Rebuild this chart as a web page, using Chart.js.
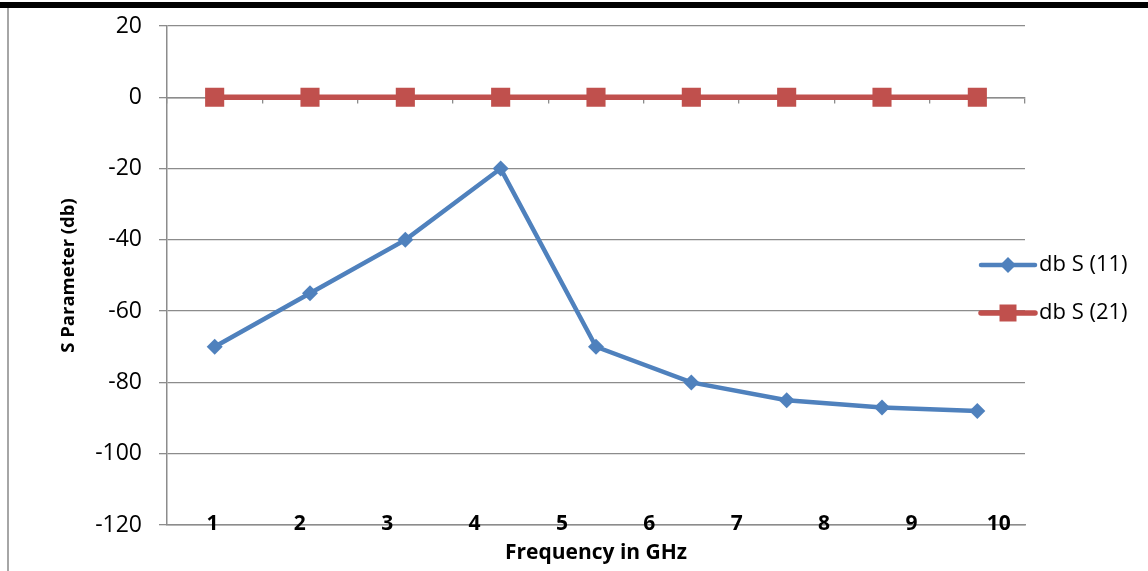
<!DOCTYPE html>
<html>
<head>
<meta charset="utf-8">
<script src="https://cdn.jsdelivr.net/npm/chart.js"></script>
<style>
  body { margin: 0; background: #fff; }
  #marco { position: relative; width: 1148px; height: 571px; overflow: hidden; }
  #barra { position: absolute; left: 0; top: 2px; width: 1148px; height: 6px; background: #000; }
  #borde { position: absolute; left: 7px; top: 8px; width: 2px; height: 563px; background: #a6a6a6; }
  canvas { position: absolute; left: 0; top: 0; }
</style>
</head>
<body>
<div id="marco">
  <canvas id="grafica" width="1148" height="571"></canvas>
  <div id="barra"></div>
  <div id="borde"></div>
</div>
<script>
// datos
const frecuencias = ["1", "2", "3", "4", "5", "6", "7", "8", "9"];
const dbS11 = [-70, -55, -40, -20, -70, -80, -85, -87, -88];
const dbS21 = [0, 0, 0, 0, 0, 0, 0, 0, 0];
const etiquetasX = [1, 2, 3, 4, 5, 6, 7, 8, 9, 10];
const nombres = ["db S (11)", "db S (21)"];

const azul = "#4f81bd";
const rojo = "#c0504d";
const gris = "#8c8c8c";
const fuente = "'Open Sans', 'Liberation Sans', sans-serif";

// leyenda dibujada a mano (linea + marcador, como en Excel)
const leyenda = {
  id: "leyenda",
  afterDraw(chart) {
    const ctx = chart.ctx;
    const a = chart.chartArea;
    chart.data.datasets.forEach((ds, i) => {
      const y = a.top + 239 + i * 48;
      const x0 = a.right - 44;
      const x1 = a.right + 10;
      const xm = (x0 + x1) / 2;
      ctx.save();
      ctx.strokeStyle = ds.borderColor;
      ctx.lineWidth = ds.borderWidth;
      ctx.lineCap = "round";
      ctx.beginPath();
      ctx.moveTo(x0, y);
      ctx.lineTo(x1, y);
      ctx.stroke();
      ctx.fillStyle = ds.backgroundColor;
      ctx.beginPath();
      if (ds.pointStyle === "rectRot") {
        ctx.moveTo(xm, y - 8);
        ctx.lineTo(xm + 8, y);
        ctx.lineTo(xm, y + 8);
        ctx.lineTo(xm - 8, y);
        ctx.closePath();
      } else {
        ctx.rect(xm - 8.5, y - 8.5, 17, 17);
      }
      ctx.fill();
      ctx.fillStyle = "#000";
      ctx.font = "22px " + fuente;
      ctx.textBaseline = "middle";
      ctx.fillText(ds.label, x1 + 4, y);
      ctx.restore();
    });
  }
};

new Chart(document.getElementById("grafica"), {
  type: "line",
  data: {
    labels: frecuencias,
    datasets: [
      {
        label: nombres[0],
        data: dbS11,
        borderColor: azul,
        backgroundColor: azul,
        borderWidth: 4.5,
        pointStyle: "rectRot",
        pointRadius: 8,
        pointHoverRadius: 8,
        pointBorderWidth: 0,
        tension: 0
      },
      {
        label: nombres[1],
        data: dbS21,
        borderColor: rojo,
        backgroundColor: rojo,
        borderWidth: 5.5,
        pointStyle: "rect",
        pointRadius: 13.5,
        pointHoverRadius: 13.5,
        pointBorderWidth: 0,
        tension: 0
      }
    ]
  },
  options: {
    responsive: false,
    animation: false,
    layout: { padding: { left: 10, right: 123, top: 26, bottom: 0 } },
    plugins: {
      legend: { display: false },
      tooltip: { enabled: false }
    },
    scales: {
      x: {
        type: "category",
        position: { y: 0 },
        offset: true,
        grid: { drawOnChartArea: false, offset: true, color: gris, tickLength: 5, lineWidth: 1.3 },
        border: { color: gris, width: 1.5 },
        ticks: { display: false }
      },
      x2: {
        type: "linear",
        position: "bottom",
        min: 0.48,
        max: 10.3,
        afterBuildTicks: s => { s.ticks = etiquetasX.map(v => ({ value: v })); },
        afterFit: s => { s.height = 46; s.paddingLeft = 0; s.paddingRight = 0; },
        grid: { display: false, drawTicks: false, tickLength: 0 },
        border: { display: true, color: gris, width: 1.5 },
        ticks: {
          mirror: true,
          padding: -12,
          color: "#000",
          font: { family: fuente, size: 21, weight: "bold" },
          maxRotation: 0,
          autoSkip: false
        },
        title: {
          display: true,
          text: "Frequency in GHz",
          color: "#000",
          font: { family: fuente, size: 21, weight: "bold" },
          padding: { top: 2, bottom: 5 }
        }
      },
      y: {
        min: -120,
        max: 20,
        afterFit: s => { s.width = 157; s.paddingTop = 0; s.paddingBottom = 0; },
        ticks: {
          stepSize: 20,
          padding: 17,
          color: "#000",
          font: { family: fuente, size: 23 }
        },
        grid: { color: gris, lineWidth: 1.3, tickLength: 8 },
        border: { color: gris, width: 1.5 },
        title: {
          display: true,
          text: "S Parameter (db)",
          color: "#000",
          font: { family: fuente, size: 18.5, weight: "bold" },
          padding: { top: 48, bottom: 0 }
        }
      }
    }
  },
  plugins: [leyenda]
});
</script>
</body>
</html>
